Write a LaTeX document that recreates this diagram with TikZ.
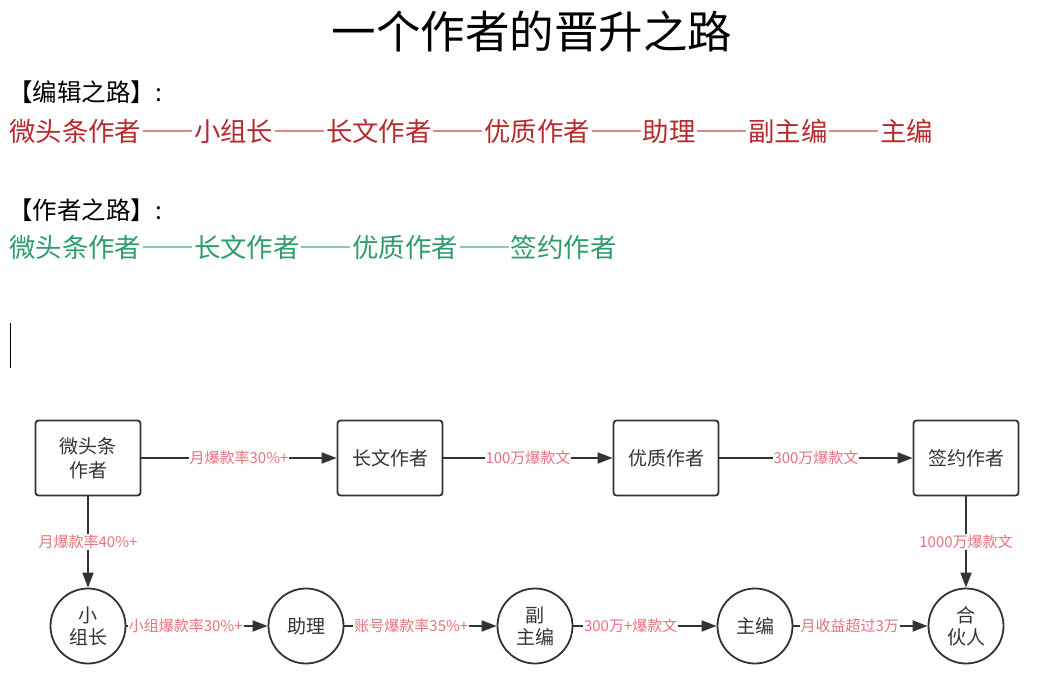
\documentclass[tikz,border=0pt]{standalone}
\usepackage{fontspec}
\setmainfont{Noto Sans CJK SC}
\usetikzlibrary{positioning, arrows.meta}
\definecolor{pathred}{HTML}{B8292E}
\definecolor{pathgreen}{HTML}{2E9C6A}
\definecolor{condred}{HTML}{E5737E}
\definecolor{linegray}{HTML}{333333}

\begin{document}
\begin{tikzpicture}[x=1pt, y=-1pt,
  box/.style={draw=linegray, line width=1.8pt, rounded corners=3pt,
    minimum width=105pt, minimum height=75pt, align=center, text=linegray,
    font=\fontsize{19}{24}\selectfont},
  role/.style={circle, draw=linegray, line width=1.8pt, minimum size=75pt,
    inner sep=0pt, align=center, text=linegray, font=\fontsize{19}{22}\selectfont},
  arrow/.style={-{Triangle[length=15pt,width=11pt]}, line width=1.8pt, draw=linegray},
  cond/.style={fill=white, text=condred, font=\fontsize{15}{17}\selectfont, inner sep=1pt},
  heading/.style={anchor=west, inner sep=0pt, font=\fontsize{24.5}{28}\selectfont},
  route/.style={anchor=west, inner sep=0pt,
    font=\fontsize{26.4}{30}\selectfont\addfontfeature{RawFeature=+fwid}},
]
  \useasboundingbox (0,0) rectangle (1049,695);

  % title and the two routes
  \node[font=\fontsize{44.5}{50}\selectfont] (title) at (532,32) {一个作者的晋升之路};
  \node[heading] (edhead) at (8,92) {【编辑之路】:};
  \node[route, text=pathred] (edroute) at (9,131)
    {微头条作者——小组长——长文作者——优质作者——助理——副主编——主编};
  \node[heading] (auhead) at (8,210) {【作者之路】:};
  \node[route, text=pathgreen] (auroute) at (9,247)
    {微头条作者——长文作者——优质作者——签约作者};
  \draw[line width=0.8pt] (10,323) -- (10,368);

  % author track
  \node[box] (weitou) at (88,458) {微头条\\作者};
  \node[box] (changwen) at (390,458) {长文作者};
  \node[box] (youzhi) at (666,458) {优质作者};
  \node[box] (qianyue) at (966,458) {签约作者};

  % editor track
  \node[role] (zuzhang) at (88,626) {小\\组长};
  \node[role] (zhuli) at (306,626) {助理};
  \node[role] (fuzhu) at (535,626) {副\\主编};
  \node[role] (zhubian) at (755,626) {主编};
  \node[role] (hehuo) at (966,626) {合\\伙人};

  \draw[arrow] (weitou) -- node[cond] {月爆款率30\%+} (changwen);
  \draw[arrow] (changwen) -- node[cond] {100万爆款文} (youzhi);
  \draw[arrow] (youzhi) -- node[cond] {300万爆款文} (qianyue);
  \draw[arrow] (weitou) -- node[cond] {月爆款率40\%+} (zuzhang);
  \draw[arrow] (qianyue) -- node[cond] {1000万爆款文} (hehuo);
  \draw[arrow] (zuzhang) -- node[cond, pos=0.42] {小组爆款率30\%+} (zhuli);
  \draw[arrow] (zhuli) -- node[cond, pos=0.44] {账号爆款率35\%+} (fuzhu);
  \draw[arrow] (fuzhu) -- node[cond, pos=0.4] {300万+爆款文} (zhubian);
  \draw[arrow] (zhubian) -- node[cond, pos=0.42] {月收益超过3万} (hehuo);
\end{tikzpicture}
\end{document}
